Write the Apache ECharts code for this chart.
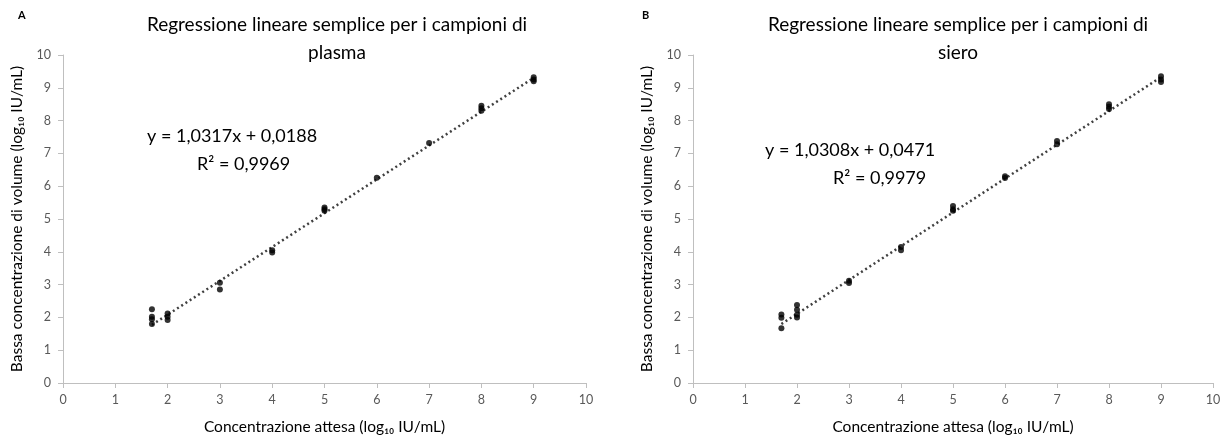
<!DOCTYPE html>
<html>
<head>
<meta charset="utf-8">
<script src="https://cdn.jsdelivr.net/npm/echarts@6/dist/echarts.min.js"></script>
<style>
  html, body { margin: 0; padding: 0; background: #fff; }
  #main { width: 1229px; height: 440px; }
</style>
</head>
<body>
<div id="main"></div>
<script>
// plasma samples (panel A)
var plasmaX = [1.7, 1.7, 1.7, 1.7, 2, 2, 2, 3, 3, 4, 4, 5, 5, 5, 6, 7, 8, 8, 8, 9, 9, 9];
var plasmaY = [2.25, 2.02, 1.94, 1.80, 2.12, 2.02, 1.92, 3.06, 2.85, 4.05, 3.98, 5.35, 5.30, 5.25, 6.26, 7.32, 8.45, 8.38, 8.30, 9.32, 9.25, 9.20];

// serum samples (panel B)
var serumX = [1.7, 1.7, 1.7, 2, 2, 2, 2, 3, 3, 4, 4, 5, 5, 5, 6, 6, 7, 7, 8, 8, 8, 9, 9, 9];
var serumY = [2.09, 1.99, 1.67, 2.38, 2.23, 2.08, 2.00, 3.12, 3.05, 4.15, 4.05, 5.40, 5.30, 5.25, 6.30, 6.25, 7.38, 7.28, 8.50, 8.42, 8.35, 9.35, 9.25, 9.18];

// regression fits
var slopes = [1.0317, 1.0308];
var intercepts = [0.0188, 0.0471];
var r2 = ['0,9969', '0,9979'];
var eqLabels = ['y = 1,0317x + 0,0188', 'y = 1,0308x + 0,0471'];
var titles = ['Regressione lineare semplice per i campioni di\nplasma', 'Regressione lineare semplice per i campioni di\nsiero'];
var panelLetters = ['A', 'B'];

function pairs(xs, ys) {
  var out = [];
  for (var i = 0; i < xs.length; i++) out.push([xs[i], ys[i]]);
  return out;
}

function fitLine(k) {
  var x0 = 1.7, x1 = 9;
  return [[x0, slopes[k] * x0 + intercepts[k]], [x1, slopes[k] * x1 + intercepts[k]]];
}

var font = 'Lato, "Open Sans", sans-serif';

var grids = [
  { left: 63, width: 523, top: 55, height: 330 },
  { left: 693, width: 520, top: 55, height: 330 }
];

function xAxisFor(i) {
  return {
    gridIndex: i, type: 'value', min: 0, max: 10, interval: 1,
    name: 'Concentrazione attesa (log\u2081\u2080 IU/mL)',
    nameLocation: 'middle', nameGap: 36,
    nameTextStyle: { color: '#000', fontSize: 15.5, fontFamily: font },
    axisLine: { show: true, lineStyle: { color: '#bfbfbf', width: 1 } },
    axisTick: { show: true, length: 5, lineStyle: { color: '#bfbfbf' } },
    axisLabel: { color: '#595959', fontSize: 12.5, fontFamily: font, margin: 10 },
    splitLine: { show: false }
  };
}

function yAxisFor(i) {
  return {
    gridIndex: i, type: 'value', min: 0, max: 10, interval: 1,
    name: 'Bassa concentrazione di volume (log\u2081\u2080 IU/mL)',
    nameLocation: 'middle', nameGap: 38,
    nameTextStyle: { color: '#000', fontSize: 15.5, fontFamily: font },
    axisLine: { show: true, lineStyle: { color: '#bfbfbf', width: 1 } },
    axisTick: { show: true, length: 5, lineStyle: { color: '#bfbfbf' } },
    axisLabel: { color: '#595959', fontSize: 12.5, fontFamily: font, margin: 12 },
    splitLine: { show: false }
  };
}

var chart = echarts.init(document.getElementById('main'), null, { renderer: 'canvas' });

var titleStyle = { fontSize: 19, fontWeight: 'normal', color: '#000', fontFamily: font, lineHeight: 28, align: 'center' };

var option = {
  backgroundColor: '#fff',
  animation: false,
  title: [
    { text: titles[0], left: 332, top: 6, textAlign: 'center', textStyle: titleStyle },
    { text: titles[1], left: 953, top: 6, textAlign: 'center', textStyle: titleStyle },
    { text: panelLetters[0], left: 13, top: 5,
      textStyle: { fontSize: 11, fontWeight: 'bold', color: '#000', fontFamily: font } },
    { text: panelLetters[1], left: 637, top: 5,
      textStyle: { fontSize: 11, fontWeight: 'bold', color: '#000', fontFamily: font } }
  ],
  grid: grids,
  xAxis: [xAxisFor(0), xAxisFor(1)],
  yAxis: [yAxisFor(0), yAxisFor(1)],
  graphic: [
    { type: 'text', left: 147, top: 127, style: { text: eqLabels[0], fontSize: 18, fontFamily: font, fill: '#000' } },
    { type: 'text', left: 197, top: 155, style: { text: 'R\u00b2 = ' + r2[0], fontSize: 18, fontFamily: font, fill: '#000' } },
    { type: 'text', left: 765, top: 141, style: { text: eqLabels[1], fontSize: 18, fontFamily: font, fill: '#000' } },
    { type: 'text', left: 833, top: 169, style: { text: 'R\u00b2 = ' + r2[1], fontSize: 18, fontFamily: font, fill: '#000' } }
  ],
  series: [
    { type: 'line', xAxisIndex: 0, yAxisIndex: 0, data: fitLine(0), showSymbol: false, z: 1,
      lineStyle: { color: '#404040', width: 2.5, type: [2, 3] } },
    { type: 'scatter', xAxisIndex: 0, yAxisIndex: 0, data: pairs(plasmaX, plasmaY),
      symbol: 'circle', symbolSize: 6, itemStyle: { color: '#000' }, z: 2 },
    { type: 'line', xAxisIndex: 1, yAxisIndex: 1, data: fitLine(1), showSymbol: false, z: 1,
      lineStyle: { color: '#404040', width: 2.5, type: [2, 3] } },
    { type: 'scatter', xAxisIndex: 1, yAxisIndex: 1, data: pairs(serumX, serumY),
      symbol: 'circle', symbolSize: 6, itemStyle: { color: '#000' }, z: 2 }
  ]
};

chart.setOption(option);
</script>
</body>
</html>
